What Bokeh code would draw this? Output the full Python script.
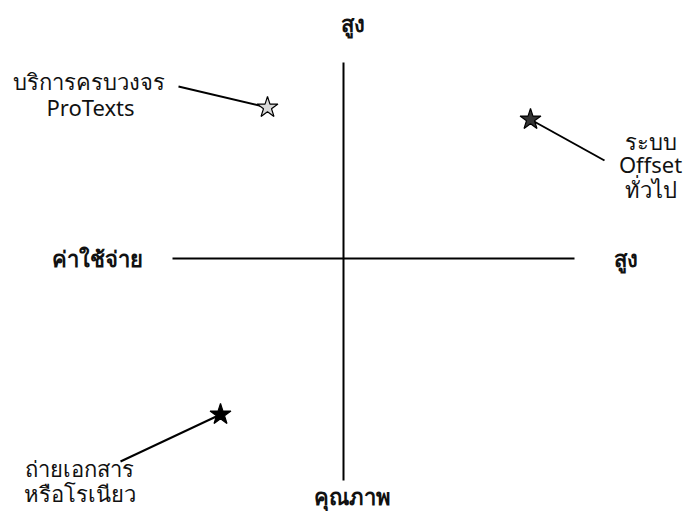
from bokeh.plotting import figure
from bokeh.models import Range1d, ColumnDataSource
from bokeh.core.properties import value
from bokeh.embed import file_html
from bokeh.resources import INLINE

# Positioning map: x = cost (ค่าใช้จ่าย), y = quality (คุณภาพ); 0 = mid point
services = ["บริการครบวงจร ProTexts", "ระบบ Offset ทั่วไป", "ถ่ายเอกสาร หรือโรเนียว"]
cost = [-0.76, 1.87, -1.23]
quality = [1.51, 1.39, -1.56]
star_fill = ["#d8d8d8", "#333333", "#000000"]

# label anchor points (leader line start) for each service
label_x = [-1.65, 2.61, -2.23]
label_y = [1.72, 0.98, -2.03]

# label lines
label_lines = ["บริการครบวงจร", "ProTexts", "ระบบ", "Offset", "ทั่วไป", "ถ่ายเอกสาร", "หรือโรเนียว"]
line_x = [-2.55, -2.53, 3.07, 3.07, 3.07, -2.64, -2.64]
line_y = [1.78, 1.52, 1.18, 0.95, 0.70, -2.09, -2.34]

# axes extent
x_axis = [-1.71, 2.31]
y_axis = [-2.22, 1.96]
axis_labels = ["สูง", "ค่าใช้จ่าย", "สูง", "คุณภาพ"]
axis_label_x = [0.09, -2.46, 2.82, 0.09]
axis_label_y = [2.36, 0.01, 0.01, -2.37]

p = figure(width=684, height=518, output_backend="svg", toolbar_location=None,
           x_range=Range1d(-3.43, 3.41), y_range=Range1d(-2.60, 2.58),
           min_border=0, outline_line_color=None)
p.axis.visible = False
p.grid.visible = False
p.background_fill_color = "white"
p.border_fill_color = "white"

# cross axes
p.line(x_axis, [0, 0], line_color="black", line_width=2)
p.line([0, 0], y_axis, line_color="black", line_width=2)

# leader lines
p.segment(x0=label_x, y0=label_y, x1=cost, y1=quality, line_color="black", line_width=2)

# stars
src = ColumnDataSource(dict(x=cost, y=quality, c=star_fill))
p.scatter("x", "y", source=src, marker="star", size=22, fill_color="c",
          line_color="black", line_width=1.2)

# service labels
p.text(line_x, line_y, text=label_lines, text_font=value("Noto Sans"),
       text_font_size="22px", text_align="center", text_baseline="middle",
       text_color="#111111")

# axis labels
p.text(axis_label_x, axis_label_y, text=axis_labels, text_font=value("Noto Sans"),
       text_font_size="22px", text_font_style="bold", text_align="center",
       text_baseline="middle", text_color="#111111")

open("out.html", "w").write(file_html(p, INLINE))
